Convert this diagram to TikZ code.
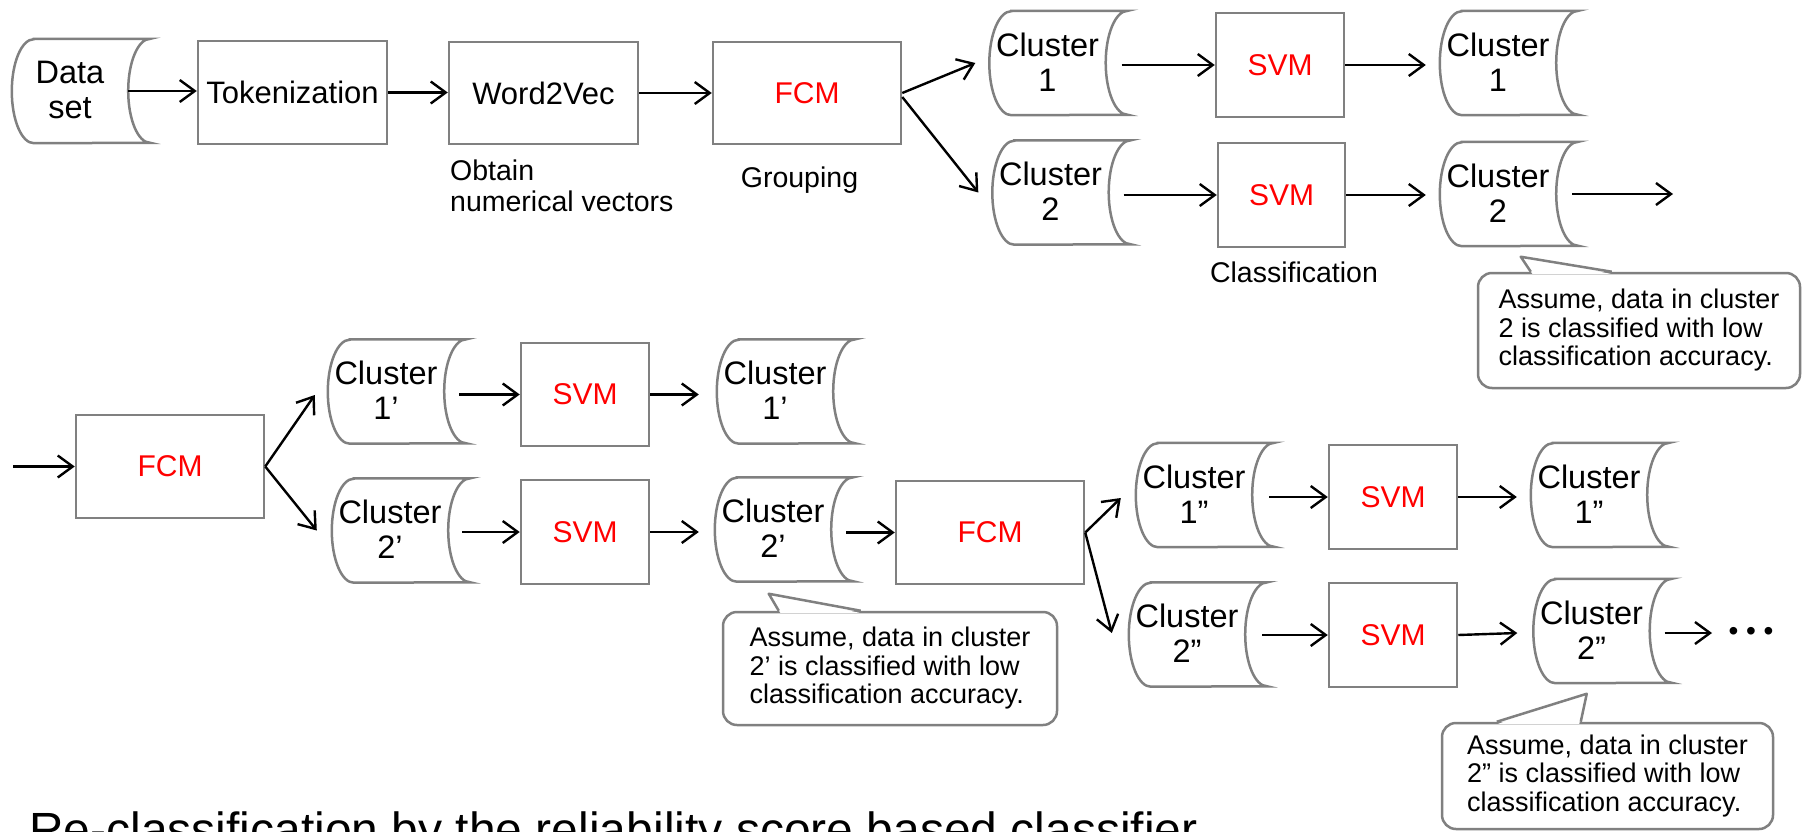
\documentclass[tikz,border=0pt]{standalone}
\usepackage{fontspec}
\setmainfont{Liberation Sans}
\usetikzlibrary{arrows.meta,calc}
\definecolor{bordergray}{RGB}{128,128,128}
\definecolor{fcmred}{RGB}{255,0,0}
\tikzset{
  box/.style={draw=bordergray, line width=2.5pt, fill=white, inner sep=0pt},
  stobase/.style={inner sep=0pt, minimum width=138pt, minimum height=104pt},
  sto/.style={draw=bordergray, line width=2.5pt, fill=white},
  arr/.style={draw=black, line width=2.4pt, -{Straight Barb[length=15pt,width=22pt]}},
  maintext/.style={font=\fontsize{31}{36}\selectfont},
  redtext/.style={font=\fontsize{30}{36}\selectfont, text=fcmred},
  clutext/.style={font=\fontsize{32.5}{35}\selectfont, align=center, inner sep=0pt},
  lbl/.style={font=\fontsize{28.5}{31}\selectfont, inner sep=0pt},
  callout/.style={draw=bordergray, line width=2.5pt, fill=white, rounded corners=14pt,
    inner sep=0pt, align=left, font=\fontsize{27}{28.5}\selectfont},
  tail/.style={draw=bordergray, line width=2.5pt, line join=round},
}
\newcommand{\storednode}[4]{%
  \node[stobase] (#1) at (#2,#3) {};
  \draw[sto] ([xshift=22pt]#1.north west) -- (#1.north east)
    arc[start angle=90,end angle=270,x radius=22pt,y radius=52pt]
    -- ([xshift=22pt]#1.south west)
    arc[start angle=270,end angle=90,x radius=22pt,y radius=52pt] -- cycle;
  \node[clutext] (#1t) at ([xshift=-11pt,yshift=1pt]#1.center) {#4};
}
\begin{document}
\begin{tikzpicture}[x=1pt,y=-1pt]
\useasboundingbox (0,0) rectangle (1806,832);
\fill[white] (0,0) rectangle (1806,832);

% ---------- Row 1 ----------
\storednode{DS}{81}{91}{Data\\set}
\node[box, minimum width=189pt, minimum height=103pt, maintext] (TOK) at (292.5,92.5) {Tokenization};
\node[box, minimum width=189pt, minimum height=102pt, maintext] (W2V) at (543.5,93) {Word2Vec};
\node[box, minimum width=188pt, minimum height=102pt, redtext] (FCM1) at (807,93) {FCM};
\node[lbl, anchor=north west, align=left] (lobt) at (450,160) {Obtain\\numerical vectors};
\node[lbl, anchor=base] (lgrp) at (799.5,187) {Grouping};

\storednode{C1}{1058.5}{63}{Cluster\\1}
\node[box, minimum width=128pt, minimum height=104pt, redtext] (SVM1) at (1280,65) {SVM};
\storednode{C1o}{1509}{63}{Cluster\\1}
\storednode{C2}{1061.5}{192.5}{Cluster\\2}
\node[box, minimum width=127pt, minimum height=104pt, redtext] (SVM2) at (1281.5,195) {SVM};
\storednode{C2o}{1509}{194}{Cluster\\2}
\node[lbl, anchor=base] (lcls) at (1294,282) {Classification};
\coordinate (out1) at (1673,194);

\draw[arr] ([xshift=-22pt]DS.east) -- (DS.east -| TOK.west);
\draw[arr] (TOK.east) -- (TOK.east -| W2V.west);
\draw[arr] (W2V.east) -- (W2V.east -| FCM1.west);
\draw[arr] (FCM1.east) -- ($(C1.west)+(-14,0)$);
\draw[arr] ([yshift=-4pt]FCM1.east) -- ($(C2.west)+(-14,0)$);
\draw[arr] ($(C1.east |- SVM1.west)+(-6,0)$) -- (SVM1.west);
\draw[arr] (SVM1.east) -- ($(SVM1.east -| C1o.west)+(-14,0)$);
\draw[arr] ($(C2.east |- SVM2.west)+(-7,0)$) -- (SVM2.west);
\draw[arr] (SVM2.east) -- ($(SVM2.east -| C2o.west)+(-14,0)$);
\draw[arr] ($(C2o.east)+(-6,0)$) -- (out1);

% callout 1
\node[callout, minimum width=322pt, minimum height=115pt] (cb1) at (1639,330.5)
  {Assume, data in cluster\\2 is classified with low\\classification accuracy.};
\fill[white] ($(cb1.north west)+(55.5,2)$) -- ($(cb1.north west)+(44,-15)$) -- ($(cb1.north west)+(133.5,2)$) -- cycle;
\draw[tail] ($(cb1.north west)+(54,0)$) -- ($(cb1.north west)+(44,-15)$) -- ($(cb1.north west)+(135,0)$);

% ---------- Row 2 ----------
\coordinate (in2) at (13,466.5);
\node[box, minimum width=188pt, minimum height=103pt, redtext] (FCM2) at (170,466.5) {FCM};
\storednode{C1p}{397}{391.5}{Cluster\\1’}
\node[box, minimum width=128pt, minimum height=103pt, redtext] (SVM1p) at (585,394.5) {SVM};
\storednode{C1po}{786}{391.5}{Cluster\\1’}
\storednode{C2p}{401}{530.5}{Cluster\\2’}
\node[box, minimum width=128pt, minimum height=104pt, redtext] (SVM2p) at (585,532) {SVM};
\storednode{C2po}{784}{529.5}{Cluster\\2’}
\node[box, minimum width=188pt, minimum height=103pt, redtext] (FCM3) at (990,532.5) {FCM};
\storednode{C1pp}{1205}{495}{Cluster\\1”}
\node[box, minimum width=128pt, minimum height=104pt, redtext] (SVM1pp) at (1393,497) {SVM};
\storednode{C1ppo}{1600}{495}{Cluster\\1”}
\storednode{C2pp}{1198}{634.5}{Cluster\\2”}
\node[box, minimum width=128pt, minimum height=104pt, redtext] (SVM2pp) at (1393,635) {SVM};
\storednode{C2ppo}{1602.5}{631}{Cluster\\2”}
\coordinate (out3) at (1712,633);
\node[font=\fontsize{28}{30}\selectfont, inner sep=0pt] (dots) at (1751,634) {• • •};

\draw[arr] (in2) -- (FCM2.west);
\draw[arr] (FCM2.east) -- ($(C1p.west)+(-13,3.5)$);
\draw[arr] (FCM2.east) -- ($(C2p.west)+(-15,0)$);
\draw[arr] ($(C1p.east |- SVM1p.west)+(-7,0)$) -- (SVM1p.west);
\draw[arr] (SVM1p.east) -- ($(SVM1p.east -| C1po.west)+(-18,0)$);
\draw[arr] ($(C2p.east |- SVM2p.west)+(-8,0)$) -- (SVM2p.west);
\draw[arr] (SVM2p.east) -- ($(SVM2p.east -| C2po.west)+(-16,0)$);
\draw[arr] ($(C2po.east |- FCM3.west)+(-7,0)$) -- (FCM3.west);
\draw[arr] (FCM3.east) -- ($(C1pp.west)+(-15,3)$);
\draw[arr] (FCM3.east) -- ($(C2pp.west)+(-17,-1.5)$);
\draw[arr] ($(C1pp.east |- SVM1pp.west)+(-5,0)$) -- (SVM1pp.west);
\draw[arr] (SVM1pp.east) -- ($(SVM1pp.east -| C1ppo.west)+(-14,0)$);
\draw[arr] ($(C2pp.east |- SVM2pp.west)+(-5,0)$) -- (SVM2pp.west);
\draw[arr] (SVM2pp.east) -- ($(C2ppo.west)+(-16,2)$);
\draw[arr] ($(C2ppo.east)+(-7,2)$) -- (out3);

% callout 2
\node[callout, minimum width=334pt, minimum height=113pt] (cb2) at (890,668.5)
  {Assume, data in cluster\\2’ is classified with low\\classification accuracy.};
\fill[white] ($(cb2.north west)+(58.5,2)$) -- ($(cb2.north west)+(47,-17)$) -- ($(cb2.north west)+(137.5,2)$) -- cycle;
\draw[tail] ($(cb2.north west)+(57,0)$) -- ($(cb2.north west)+(47,-17)$) -- ($(cb2.north west)+(139,0)$);

% callout 3
\node[callout, minimum width=331pt, minimum height=106pt] (cb3) at (1607.5,776)
  {Assume, data in cluster\\2” is classified with low\\classification accuracy.};
\fill[white] ($(cb3.north west)+(57.5,2)$) -- ($(cb3.north west)+(146,-28)$) -- ($(cb3.north west)+(138.5,2)$) -- cycle;
\draw[tail] ($(cb3.north west)+(56,0)$) -- ($(cb3.north west)+(146,-28)$) -- ($(cb3.north west)+(140,0)$);

% caption (cut by the lower edge)
\node[anchor=base west, inner sep=0pt, font=\fontsize{48}{56}\selectfont] (caption) at (29,846)
  {Re-classification by the reliability score based classifier};
\end{tikzpicture}
\end{document}
